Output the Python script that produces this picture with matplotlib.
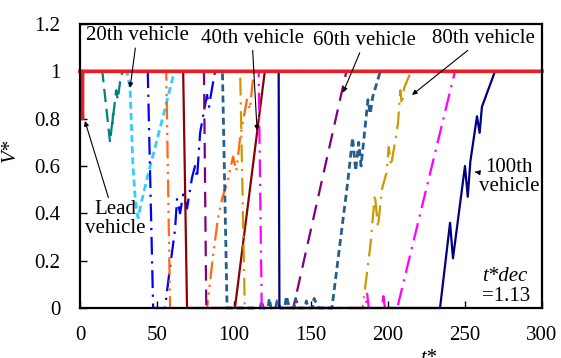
import matplotlib
matplotlib.use('Agg')
import matplotlib.pyplot as plt

plt.rcParams['font.family'] = 'serif'
plt.rcParams['font.serif'] = ['Liberation Serif', 'DejaVu Serif']
plt.rcParams['mathtext.fontset'] = 'stix'

# speed profiles (t*, V*)
t_lead = [0, 0.8, 1.6, 1.7, 300]
v_lead = [1, 1, 0.8, 1, 1]

t_teal = [0, 14.5, 19.5, 21.5, 21.0, 23.5, 24.5, 26.5, 28.0, 300]
v_teal = [1, 1, 0.70, 0.82, 0.78, 0.92, 0.88, 0.98, 1, 1]

t_cyan = [0, 30.5, 32.5, 34.4, 36.0, 37.7, 40.0, 44.0, 52.0, 60.5, 61.5, 300]
v_cyan = [1, 1, 0.93, 0.60, 0.45, 0.38, 0.45, 0.56, 0.76, 0.98, 1, 1]

t_blue = [0, 44.0, 47.5, 55.2, 58.4, 61.7, 63.0, 65.0, 67.0, 69.5, 72.7, 74.7,
          76.0, 78.0, 81.0, 82.5, 83.8, 85.0, 87.7, 300]
v_blue = [1, 1, 0, 0, 0.17, 0.33, 0.46, 0.40, 0.48, 0.42, 0.55, 0.60,
          0.55, 0.74, 0.85, 0.90, 0.85, 0.90, 1, 1]

t_orange = [0, 56.0, 58.5, 82.5, 86.4, 89.6, 92.2, 96.0, 99.4, 101.5, 104.0,
            108.4, 110.4, 111.7, 113.0, 300]
v_orange = [1, 1, 0, 0, 0.22, 0.38, 0.46, 0.54, 0.64, 0.58, 0.72,
            0.88, 0.84, 0.93, 1, 1]

t_darkred = [0, 67.0, 69.5, 100.6, 120.0, 300]
v_darkred = [1, 1, 0, 0, 1, 1]

t_purple = [0, 80.5, 82.0, 138.5, 173.0, 300]
v_purple = [1, 1, 0, 0, 1, 1]

t_steel = [0, 92.5, 95.5, 117, 118, 119, 122, 123, 124, 127, 128, 130, 133, 134,
           136, 139, 140, 142, 146, 147, 148, 151, 152, 155, 163.6, 174.0,
           177.0, 179.0, 181.0, 182.5, 187.0, 188.5, 190.0, 195.0, 300]
v_steel = [1, 1, 0, 0, 0.03, 0, 0, 0.04, 0, 0, 0.03, 0, 0, 0.05,
           0, 0, 0.04, 0, 0, 0.03, 0, 0, 0.04, 0, 0, 0.54,
           0.72, 0.58, 0.70, 0.60, 0.88, 0.82, 0.89, 1, 1]

t_gold = [0, 104.0, 107.0, 183.5, 188.5, 190.0, 191.5, 193.5, 196.0, 199.0,
          200.5, 202.0, 206.5, 208.0, 209.0, 210.5, 215.0, 300]
v_gold = [1, 1, 0, 0, 0.26, 0.37, 0.48, 0.34, 0.50, 0.57,
          0.68, 0.60, 0.78, 0.92, 0.86, 0.93, 1, 1]

t_magenta = [0, 116.0, 118.0, 185.5, 186.5, 187.5, 196.0, 197.0, 198.0, 206.0, 243.5, 300]
v_magenta = [1, 1, 0, 0, 0.06, 0, 0, 0.05, 0, 0, 1, 1]

t_navy = [0, 129.0, 129.5, 233.8, 240.3, 242.2, 250.0, 251.8, 253.5,
          257.8, 259.5, 261.0, 269.5, 300]
v_navy = [1, 1, 0, 0, 0.36, 0.21, 0.60, 0.47, 0.62,
          0.81, 0.74, 0.85, 1, 1]

fig = plt.figure(figsize=(5.61, 3.58), dpi=100)
ax = fig.add_axes([0.1426, 0.1397, 0.8235, 0.7933])

lw = 1.6
ax.plot(t_teal, v_teal, color='#008080', lw=lw, ls=(0, (6, 3)))
ax.plot(t_cyan, v_cyan, color='#33ccff', lw=2.0, ls=(0, (2.5, 1.5)))
ax.plot(t_blue, v_blue, color='#0000ff', lw=lw, ls=(0, (8, 3, 1, 3)))
ax.plot(t_orange, v_orange, color='#ff6a10', lw=lw, ls=(0, (8, 2.5, 1, 2.5, 1, 2.5)))
ax.plot(t_darkred, v_darkred, color='#8b0000', lw=lw)
ax.plot(t_purple, v_purple, color='#800080', lw=lw, ls=(0, (7, 4)))
ax.plot(t_steel, v_steel, color='#255e8e', lw=2.0, ls=(0, (2.5, 1.5)))
ax.plot(t_gold, v_gold, color='#cc9900', lw=lw, ls=(0, (8, 3, 1, 3)))
ax.plot(t_magenta, v_magenta, color='#ff00ff', lw=lw, ls=(0, (8, 3, 1, 3)))
ax.plot(t_navy, v_navy, color='#000080', lw=lw)
ax.plot(t_lead, v_lead, color='#ee1c25', lw=2.6)

for ln in ax.lines:
    ln.set_clip_on(False)

ax.set_xlim(0, 300)
ax.set_ylim(0, 1.2)
ax.set_xticks([0, 50, 100, 150, 200, 250, 300])
ax.set_xticklabels(['0', '50', '100', '150', '200', '250', '300'])
ax.set_yticks([0, 0.2, 0.4, 0.6, 0.8, 1.0, 1.2])
ax.set_yticklabels(['0', '0.2', '0.4', '0.6', '0.8', '1', '1.2'])
ax.tick_params(direction='in', length=5, width=1, labelsize=15)
ax.tick_params(axis='x', pad=13)
ax.tick_params(axis='y', pad=14)
for s in ax.spines.values():
    s.set_linewidth(1.6)

ax.set_xlabel('t*', fontsize=15, style='italic')
ax.xaxis.set_label_coords(0.753, -0.145)
ax.set_ylabel('V*', fontsize=15, style='italic')
ax.yaxis.set_label_coords(-0.13, 0.556)

arrow = dict(arrowstyle='-|>', color='black', lw=0.8, mutation_scale=7,
             shrinkA=0, shrinkB=0)
fs = 15
ax.annotate('20th vehicle', xy=(32.5, 0.93), xytext=(37, 1.15), fontsize=fs,
            ha='center', va='center', arrowprops=arrow)
ax.annotate('40th vehicle', xy=(115, 0.75), xytext=(111.7, 1.14), fontsize=fs,
            ha='center', va='center', arrowprops=arrow)
ax.annotate('60th vehicle', xy=(170.8, 0.91), xytext=(185, 1.13), fontsize=fs,
            ha='center', va='center', arrowprops=arrow)
ax.annotate('80th vehicle', xy=(215.6, 0.90), xytext=(261.7, 1.14), fontsize=fs,
            ha='center', va='center', arrowprops=arrow)
ax.annotate('Lead\nvehicle', xy=(3.2, 0.79), xytext=(22.7, 0.376), fontsize=fs,
            ha='center', va='center', linespacing=0.95, arrowprops=arrow)
ax.annotate('100th\nvehicle', xy=(256.5, 0.575), xytext=(278.6, 0.553), fontsize=fs,
            ha='center', va='center', linespacing=0.95, arrowprops=arrow)
ax.text(276, 0.135, 't*dec', fontsize=fs, style='italic', ha='center', va='center')
ax.text(276.6, 0.05, '=1.13', fontsize=fs, ha='center', va='center')

fig.savefig('out.png', dpi=100)
